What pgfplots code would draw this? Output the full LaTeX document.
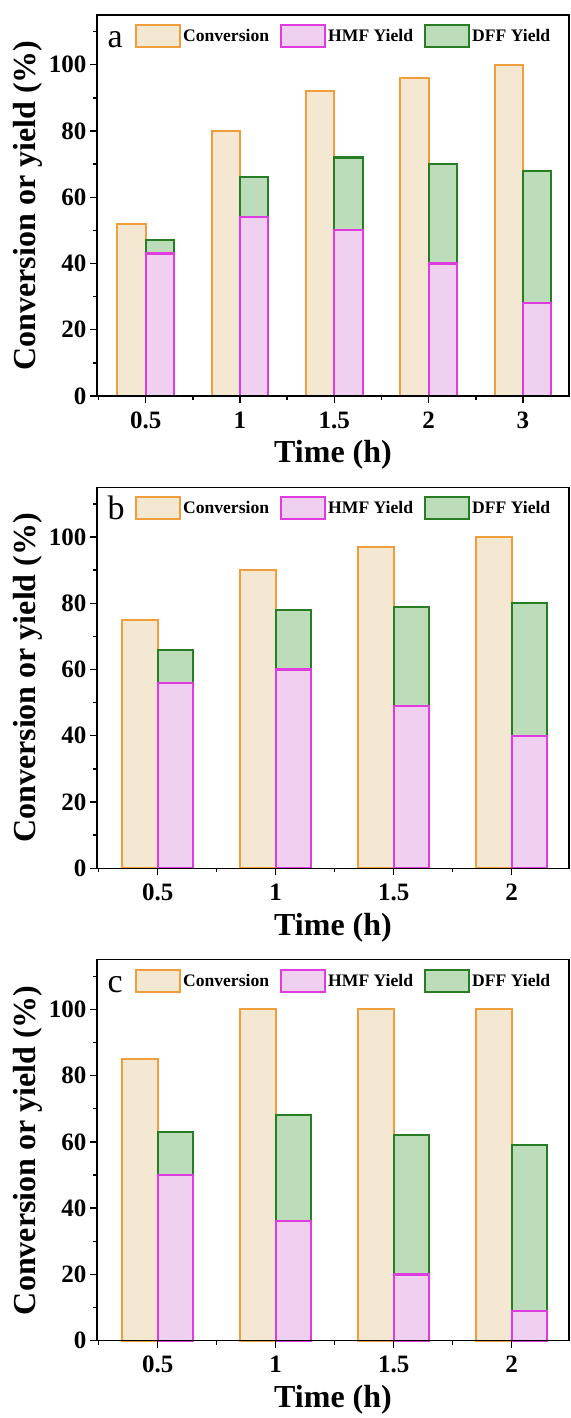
\documentclass[border=0pt]{standalone}
\usepackage{fontspec}
\setmainfont{Liberation Serif}
\usepackage{pgfplots}
\usepackage{pgfplotstable}
\pgfplotsset{compat=1.18}

\definecolor{convline}{RGB}{240,158,60}
\definecolor{convfill}{RGB}{245,232,210}
\definecolor{hmfline}{RGB}{222,60,222}
\definecolor{hmffill}{RGB}{240,208,240}
\definecolor{dffline}{RGB}{38,125,35}
\definecolor{dfffill}{RGB}{188,220,186}

\tikzset{
  convstyle/.style={draw=convline, line width=2.1pt, fill=convfill},
  hmfstyle/.style={draw=hmfline, line width=2.1pt, fill=hmffill},
  dffstyle/.style={draw=dffline, line width=2.1pt, fill=dfffill},
}

\pgfplotsset{
  base/.style={scale only axis, width=472pt, height=381pt, ymin=0, ymax=115,
    clip=false, bar width=0.3},
  backaxis/.style={base, ybar, hide axis},
  frontaxis/.style={base, ybar stacked, bar width=0.3, axis on top,
    axis line style={line width=1.4pt, draw=black},
    tick align=outside, xtick pos=left, ytick pos=left,
    major tick length=7pt, minor tick length=4pt,
    every tick/.style={black, line width=1.4pt},
    ytick={0,20,...,100}, minor ytick={10,30,50,70,90,110},
    ticklabel style={font=\fontsize{25}{25}\selectfont\bfseries},
    xticklabel style={yshift=-5pt},
    /pgf/number format/assume math mode=true,
    xlabel={Time (h)}, ylabel={Conversion or yield (\%)},
    label style={font=\fontsize{32}{32}\selectfont\bfseries},
    xlabel style={at={(axis description cs:0.5,-0.155)}, anchor=center},
    ylabel style={at={(axis description cs:-0.146,0.5)}, anchor=center},
    legend columns=3,
    legend style={draw=none, fill=none, inner sep=0pt,
      at={(axis description cs:0.08,0.945)}, anchor=west,
      font=\fontsize{17.6}{20}\selectfont\bfseries,
      /tikz/every even column/.append style={column sep=9pt}},
    legend cell align=left,
    legend image code/.code={\draw[#1] (0pt,-11pt) rectangle (44pt,11pt);},
  },
}

\pgfplotstableread{
x conv hmf dff
0 52 43 4
1 80 54 12
2 92 50 22
3 96 40 30
4 100 28 40
}\dataA
\pgfplotstableread{
x conv hmf dff
0 75 56 10
1 90 60 18
2 97 49 30
3 100 40 40
}\dataB
\pgfplotstableread{
x conv hmf dff
0 85 50 13
1 100 36 32
2 100 20 42
3 100 9 50
}\dataC

\begin{document}
\begin{tikzpicture}
% ---------- panel a ----------
\begin{axis}[backaxis, at={(0pt,0pt)}, xmin=-0.516, xmax=4.488]
\addplot[convstyle, bar shift=-0.15] table[x=x,y=conv]{\dataA};
\end{axis}
\begin{axis}[frontaxis, at={(0pt,0pt)}, xmin=-0.516, xmax=4.488,
  xtick={0,1,2,3,4}, xticklabels={0.5,1,1.5,2,3},
  minor xtick={-0.5,0.5,1.5,2.5,3.5}]
\addlegendimage{convstyle}\addlegendentry{Conversion}
\addlegendimage{hmfstyle}\addlegendentry{HMF Yield}
\addlegendimage{dffstyle}\addlegendentry{DFF Yield}
\addplot[hmfstyle, bar shift=0.15, forget plot] table[x=x,y=hmf]{\dataA};
\addplot[dffstyle, bar shift=0.15, forget plot] table[x=x,y=dff]{\dataA};
\node[anchor=base west, font=\fontsize{34}{34}\selectfont] at (axis description cs:0.015,0.915) {a};
\end{axis}
% ---------- panel b ----------
\begin{axis}[backaxis, at={(0pt,-472.3pt)}, xmin=-0.514, xmax=3.486]
\addplot[convstyle, bar shift=-0.15] table[x=x,y=conv]{\dataB};
\end{axis}
\begin{axis}[frontaxis, at={(0pt,-472.3pt)}, xmin=-0.514, xmax=3.486,
  xtick={0,1,2,3}, xticklabels={0.5,1,1.5,2},
  minor xtick={-0.5,0.5,1.5,2.5}]
\addlegendimage{convstyle}\addlegendentry{Conversion}
\addlegendimage{hmfstyle}\addlegendentry{HMF Yield}
\addlegendimage{dffstyle}\addlegendentry{DFF Yield}
\addplot[hmfstyle, bar shift=0.15, forget plot] table[x=x,y=hmf]{\dataB};
\addplot[dffstyle, bar shift=0.15, forget plot] table[x=x,y=dff]{\dataB};
\node[anchor=base west, font=\fontsize{34}{34}\selectfont] at (axis description cs:0.015,0.915) {b};
\end{axis}
% ---------- panel c ----------
\begin{axis}[backaxis, at={(0pt,-944.7pt)}, xmin=-0.514, xmax=3.486]
\addplot[convstyle, bar shift=-0.15] table[x=x,y=conv]{\dataC};
\end{axis}
\begin{axis}[frontaxis, at={(0pt,-944.7pt)}, xmin=-0.514, xmax=3.486,
  xtick={0,1,2,3}, xticklabels={0.5,1,1.5,2},
  minor xtick={-0.5,0.5,1.5,2.5}]
\addlegendimage{convstyle}\addlegendentry{Conversion}
\addlegendimage{hmfstyle}\addlegendentry{HMF Yield}
\addlegendimage{dffstyle}\addlegendentry{DFF Yield}
\addplot[hmfstyle, bar shift=0.15, forget plot] table[x=x,y=hmf]{\dataC};
\addplot[dffstyle, bar shift=0.15, forget plot] table[x=x,y=dff]{\dataC};
\node[anchor=base west, font=\fontsize{34}{34}\selectfont] at (axis description cs:0.015,0.915) {c};
\end{axis}
\pgfresetboundingbox
\path[use as bounding box] (-97pt,396pt) rectangle (473pt,-1022pt);
\end{tikzpicture}
\end{document}
